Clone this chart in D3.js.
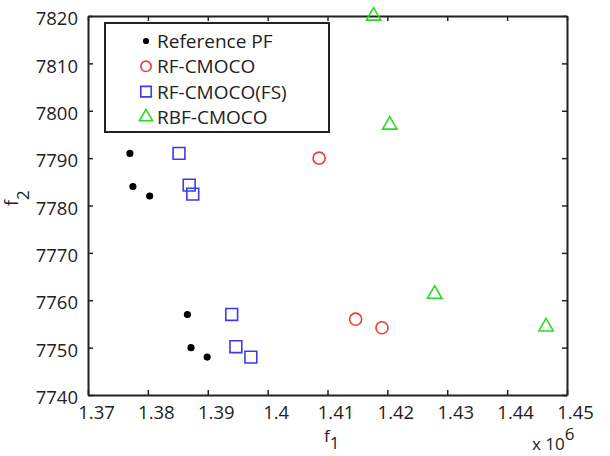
<!DOCTYPE html>
<html>
<head>
<meta charset="utf-8">
<script src="https://cdn.jsdelivr.net/npm/d3@7"></script>
<style>
  body { margin: 0; background: #fff; }
  text { font-family: "Open Sans", sans-serif; fill: #222; }
</style>
</head>
<body>
<div id="chart"></div>
<script>
// f1 values are in units of 1e6
var refX = [1.3770, 1.3775, 1.3803, 1.3866, 1.3872, 1.3899];
var refY = [7791, 7784, 7782, 7757, 7750, 7748];

var rfX = [1.4086, 1.4147, 1.4191];
var rfY = [7790, 7756, 7754.2];

var fsX = [1.3852, 1.3869, 1.3875, 1.3940, 1.3947, 1.3972];
var fsY = [7791, 7784.3, 7782.4, 7757, 7750.2, 7748];

var rbfX = [1.4177, 1.4204, 1.4279, 1.4465];
var rbfY = [7820, 7797, 7761.3, 7754.4];

var xTicks = [1.37, 1.38, 1.39, 1.4, 1.41, 1.42, 1.43, 1.44, 1.45];
var yTicks = [7740, 7750, 7760, 7770, 7780, 7790, 7800, 7810, 7820];

var legendNames = ["Reference PF", "RF-CMOCO", "RF-CMOCO(FS)", "RBF-CMOCO"];

var width = 610,
    height = 456;
var margin = {left: 88, right: 43, top: 16, bottom: 61};

var svg = d3.select("#chart")
    .append("svg")
    .attr("width", width)
    .attr("height", height);

var x = d3.scaleLinear().domain([1.37, 1.45]).range([margin.left, width - margin.right]);
var y = d3.scaleLinear().domain([7740, 7820]).range([height - margin.bottom, margin.top]);

var axisColor = "#222";
var tickLen = 5;

/* axes with inward ticks, box on */
var xAxis = svg.append("g")
    .attr("transform", "translate(0," + y(7740) + ")")
    .call(d3.axisBottom(x).tickValues(xTicks).tickSizeInner(-tickLen).tickSizeOuter(0)
        .tickFormat(function(d) { return String(+d.toFixed(2)); }));
svg.append("g")
    .attr("transform", "translate(0," + y(7820) + ")")
    .call(d3.axisTop(x).tickValues(xTicks).tickSizeInner(-tickLen).tickSizeOuter(0).tickFormat(""));
var yAxis = svg.append("g")
    .attr("transform", "translate(" + x(1.37) + ",0)")
    .call(d3.axisLeft(y).tickValues(yTicks).tickSizeInner(-tickLen).tickSizeOuter(0).tickFormat(d3.format("d")));
svg.append("g")
    .attr("transform", "translate(" + x(1.45) + ",0)")
    .call(d3.axisRight(y).tickValues(yTicks).tickSizeInner(-tickLen).tickSizeOuter(0).tickFormat(""));

svg.selectAll(".domain").attr("stroke", axisColor).attr("stroke-width", 2);
svg.selectAll(".tick line").attr("stroke", axisColor).attr("stroke-width", 1.5);
svg.selectAll(".tick text").style("font-size", "18.5px").attr("fill", "#222");
// labels sit a little right of their ticks in the original
xAxis.selectAll(".tick text").attr("dy", "0").attr("y", 24).attr("x", 8);
yAxis.selectAll(".tick text").attr("x", -10).attr("dy", "0.36em").attr("y", 2);

/* axis labels */
var fx = svg.append("text").attr("x", 324).attr("y", 442).style("font-size", "17px");
fx.append("tspan").text("f");
fx.append("tspan").attr("dy", 7).style("font-size", "17px").text("1");

var fy = svg.append("text")
    .attr("transform", "translate(18,206) rotate(-90)")
    .style("font-size", "18px");
fy.append("tspan").text("f");
fy.append("tspan").attr("dy", 11).style("font-size", "17px").text("2");

var mult = svg.append("text").attr("x", 532).attr("y", 450).style("font-size", "17px");
mult.append("tspan").text("x 10");
mult.append("tspan").attr("dy", -10).style("font-size", "17px").text("6");

/* markers */
var sym = {
    circle: d3.symbol().type(d3.symbolCircle).size(115),
    square: d3.symbol().type(d3.symbolSquare).size(140),
    triangle: d3.symbol().type(d3.symbolTriangle).size(90),
    dot: d3.symbol().type(d3.symbolCircle).size(40)
};

var series = [
    {xs: refX, ys: refY, shape: "dot", fill: "#000", stroke: "none"},
    {xs: rfX, ys: rfY, shape: "circle", fill: "none", stroke: "#f23838"},
    {xs: fsX, ys: fsY, shape: "square", fill: "none", stroke: "#3a3aee"},
    {xs: rbfX, ys: rbfY, shape: "triangle", fill: "none", stroke: "#22e022"}
];

series.forEach(function(s) {
    svg.append("g")
        .selectAll("path")
        .data(s.xs.map(function(v, i) { return [v, s.ys[i]]; }))
        .enter().append("path")
        .attr("d", sym[s.shape])
        .attr("transform", function(d) { return "translate(" + x(d[0]) + "," + y(d[1]) + ")"; })
        .attr("fill", s.fill)
        .attr("stroke", s.stroke)
        .attr("stroke-width", 1.6);
});

/* legend */
var legend = svg.append("g");
legend.append("rect")
    .attr("x", 105).attr("y", 23)
    .attr("width", 224).attr("height", 109)
    .attr("fill", "#fff")
    .attr("stroke", axisColor)
    .attr("stroke-width", 2);

var rowY = d3.scalePoint().domain(legendNames).range([41, 117]);
var legendSym = {
    circle: d3.symbol().type(d3.symbolCircle).size(85),
    square: d3.symbol().type(d3.symbolSquare).size(110),
    triangle: d3.symbol().type(d3.symbolTriangle).size(75),
    dot: d3.symbol().type(d3.symbolCircle).size(30)
};
legendNames.forEach(function(name, i) {
    var s = series[i];
    legend.append("path")
        .attr("d", legendSym[s.shape])
        .attr("transform", "translate(146," + rowY(name) + ")")
        .attr("fill", s.fill)
        .attr("stroke", s.stroke)
        .attr("stroke-width", 1.6);
    legend.append("text")
        .attr("x", 157).attr("y", rowY(name))
        .attr("dy", "0.36em")
        .style("font-size", "19px")
        .text(name);
});
</script>
</body>
</html>
